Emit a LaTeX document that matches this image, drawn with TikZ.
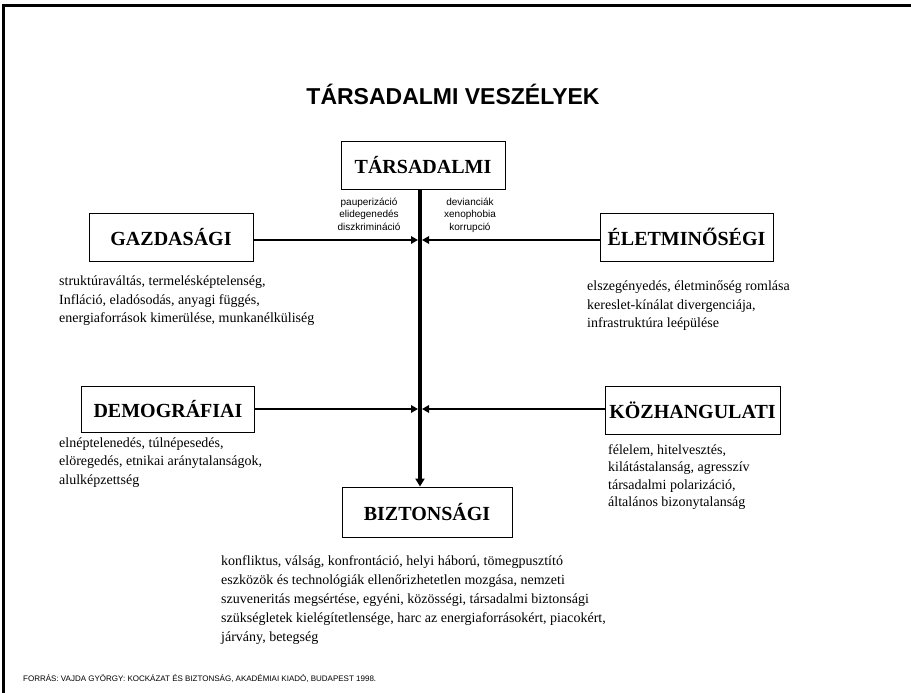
\documentclass[tikz,border=0pt]{standalone}
\usepackage{fontspec}
\setmainfont{Liberation Serif}
\newfontfamily\arialf{Liberation Sans}
\usetikzlibrary{arrows.meta}
\tikzset{
  box/.style={draw=black, line width=0.9pt, inner sep=0pt,
    font=\fontsize{20}{24}\selectfont\bfseries},
  body/.style={anchor=north west, inner sep=0pt, align=left,
    font=\fontsize{14}{18.5}\selectfont},
  small/.style={anchor=north, inner sep=0pt, align=center,
    font=\arialf\fontsize{10}{12.5}\selectfont},
  hline/.style={line width=2pt, -{Triangle[length=7pt,width=7.5pt]}, shorten >=2pt},
  vline/.style={line width=3.8pt, -{Triangle[length=8pt,width=9pt]}},
  frame/.style={line width=3pt}
}
\begin{document}
\begin{tikzpicture}[x=1pt,y=-1pt]
\useasboundingbox (0,0) rectangle (911,693);
% frame
\draw[frame] (911,5.5) -- (3.5,5.5) -- (3.5,693);
% title
\node[anchor=base, inner sep=0pt, font=\arialf\bfseries\fontsize{23}{26}\selectfont] (title) at (453,104) {TÁRSADALMI VESZÉLYEK};
% boxes
\node[box, minimum width=164pt, minimum height=48pt] (tars) at (423,165) {TÁRSADALMI};
\node[box, minimum width=164pt, minimum height=48pt] (gaz) at (171,237) {GAZDASÁGI};
\node[box, minimum width=173pt, minimum height=48pt] (elet) at (686.5,237) {ÉLETMINŐSÉGI};
\node[box, minimum width=173pt, minimum height=46pt] (demo) at (168,409) {DEMOGRÁFIAI};
\node[box, minimum width=175pt, minimum height=48pt] (koz) at (692.5,410) {KÖZHANGULATI};
\node[box, minimum width=170pt, minimum height=50pt] (bizt) at (427,512) {BIZTONSÁGI};
% junctions
\coordinate (j1) at (420,240);
\coordinate (j2) at (420,409);
% connectors
\draw[hline] (gaz.east |- j1) -- (j1);
\draw[hline] (elet.west |- j1) -- (j1);
\draw[hline] (demo.east |- j2) -- (j2);
\draw[hline] (koz.west |- j2) -- (j2);
\draw[vline] (tars.south -| j1) -- (bizt.north -| j1);
% small labels
\node[small] (lbl1) at (369,197.5) {pauperizáció\\elidegenedés\\diszkrimináció};
\node[small] (lbl2) at (470,197.5) {devianciák\\xenophobia\\korrupció};
% body texts
\node[body] (tgaz) at (59,276) {struktúraváltás, termelésképtelenség,\\Infláció, eladósodás, anyagi függés,\\energiaforrások kimerülése, munkanélküliség};
\node[body] (telet) at (587,281) {elszegényedés, életminőség romlása\\kereslet-kínálat divergenciája,\\infrastruktúra leépülése};
\node[body] (tdemo) at (59,437.5) {elnéptelenedés, túlnépesedés,\\elöregedés, etnikai aránytalanságok,\\alulképzettség};
\node[body, font=\fontsize{14}{17.5}\selectfont] (tkoz) at (608,444) {félelem, hitelvesztés,\\kilátástalanság, agresszív\\társadalmi polarizáció,\\általános bizonytalanság};
\node[body, font=\fontsize{14}{19}\selectfont] (tbizt) at (221,555) {konfliktus, válság, konfrontáció, helyi háború, tömegpusztító\\eszközök és technológiák ellenőrizhetetlen mozgása, nemzeti\\szuveneritás megsértése, egyéni, közösségi, társadalmi biztonsági\\szükségletek kielégítetlensége, harc az energiaforrásokért, piacokért,\\járvány, betegség};
% footer
\node[anchor=base west, inner sep=0pt, font=\arialf\fontsize{8}{10}\selectfont] (src) at (23,681) {FORRÁS: VAJDA GYÖRGY: KOCKÁZAT ÉS BIZTONSÁG, AKADÉMIAI KIADÓ, BUDAPEST 1998.};
\end{tikzpicture}
\end{document}
